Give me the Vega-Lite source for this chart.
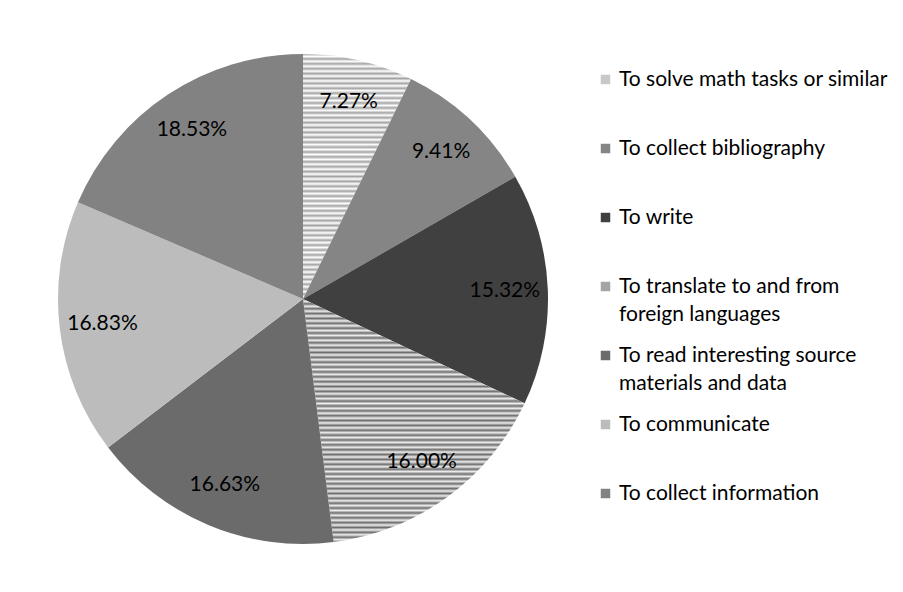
{
  "$schema": "https://vega.github.io/schema/vega-lite/v6.json",
  "width": 600,
  "height": 588,
  "padding": {"left": 3, "top": 5, "right": 0, "bottom": 0},
  "background": "white",
  "config": {"view": {"stroke": null}, "font": "Lato"},
  "data": {
    "values": [
      {"idx": 1, "cat": "To solve math tasks or similar", "pct": 7.27, "label": "7.27%"},
      {"idx": 2, "cat": "To collect bibliography", "pct": 9.41, "label": "9.41%"},
      {"idx": 3, "cat": "To write", "pct": 15.32, "label": "15.32%"},
      {"idx": 4, "cat": "To translate to and from foreign languages", "pct": 16.00, "label": "16.00%"},
      {"idx": 5, "cat": "To read interesting source materials and data", "pct": 16.63, "label": "16.63%"},
      {"idx": 6, "cat": "To communicate", "pct": 16.83, "label": "16.83%"},
      {"idx": 7, "cat": "To collect information", "pct": 18.53, "label": "18.53%"}
    ]
  },
  "encoding": {
    "theta": {"field": "pct", "type": "quantitative", "stack": true},
    "order": {"field": "idx", "type": "quantitative"}
  },
  "layer": [
    {
      "mark": {"type": "arc", "outerRadius": 245},
      "encoding": {
        "color": {
          "field": "cat",
          "type": "nominal",
          "sort": null,
          "scale": {
            "domain": ["To solve math tasks or similar", "To collect bibliography", "To write", "To translate to and from foreign languages", "To read interesting source materials and data", "To communicate", "To collect information"],
            "range": ["#c8c8c8", "#858585", "#404040", "#a4a4a4", "#6b6b6b", "#bcbcbc", "#828282"]
          },
          "condition": [
            {"test": "datum.idx == 1", "value": {"gradient": "linear", "x1": 0, "y1": 0, "x2": 0, "y2": 1, "stops": [
              {"offset": 0.00, "color": "#a4a4a4"}, {"offset": 0.01, "color": "#ffffff"}, {"offset": 0.02, "color": "#a4a4a4"}, {"offset": 0.03, "color": "#ffffff"}, {"offset": 0.04, "color": "#a4a4a4"}, {"offset": 0.05, "color": "#ffffff"}, {"offset": 0.06, "color": "#a4a4a4"}, {"offset": 0.07, "color": "#ffffff"}, {"offset": 0.08, "color": "#a4a4a4"}, {"offset": 0.09, "color": "#ffffff"},
              {"offset": 0.10, "color": "#a4a4a4"}, {"offset": 0.11, "color": "#ffffff"}, {"offset": 0.12, "color": "#a4a4a4"}, {"offset": 0.13, "color": "#ffffff"}, {"offset": 0.14, "color": "#a4a4a4"}, {"offset": 0.15, "color": "#ffffff"}, {"offset": 0.16, "color": "#a4a4a4"}, {"offset": 0.17, "color": "#ffffff"}, {"offset": 0.18, "color": "#a4a4a4"}, {"offset": 0.19, "color": "#ffffff"},
              {"offset": 0.20, "color": "#a4a4a4"}, {"offset": 0.21, "color": "#ffffff"}, {"offset": 0.22, "color": "#a4a4a4"}, {"offset": 0.23, "color": "#ffffff"}, {"offset": 0.24, "color": "#a4a4a4"}, {"offset": 0.25, "color": "#ffffff"}, {"offset": 0.26, "color": "#a4a4a4"}, {"offset": 0.27, "color": "#ffffff"}, {"offset": 0.28, "color": "#a4a4a4"}, {"offset": 0.29, "color": "#ffffff"},
              {"offset": 0.30, "color": "#a4a4a4"}, {"offset": 0.31, "color": "#ffffff"}, {"offset": 0.32, "color": "#a4a4a4"}, {"offset": 0.33, "color": "#ffffff"}, {"offset": 0.34, "color": "#a4a4a4"}, {"offset": 0.35, "color": "#ffffff"}, {"offset": 0.36, "color": "#a4a4a4"}, {"offset": 0.37, "color": "#ffffff"}, {"offset": 0.38, "color": "#a4a4a4"}, {"offset": 0.39, "color": "#ffffff"},
              {"offset": 0.40, "color": "#a4a4a4"}, {"offset": 0.41, "color": "#ffffff"}, {"offset": 0.42, "color": "#a4a4a4"}, {"offset": 0.43, "color": "#ffffff"}, {"offset": 0.44, "color": "#a4a4a4"}, {"offset": 0.45, "color": "#ffffff"}, {"offset": 0.46, "color": "#a4a4a4"}, {"offset": 0.47, "color": "#ffffff"}, {"offset": 0.48, "color": "#a4a4a4"}, {"offset": 0.49, "color": "#ffffff"},
              {"offset": 0.50, "color": "#a4a4a4"}, {"offset": 0.51, "color": "#ffffff"}, {"offset": 0.52, "color": "#a4a4a4"}, {"offset": 0.53, "color": "#ffffff"}, {"offset": 0.54, "color": "#a4a4a4"}, {"offset": 0.55, "color": "#ffffff"}, {"offset": 0.56, "color": "#a4a4a4"}, {"offset": 0.57, "color": "#ffffff"}, {"offset": 0.58, "color": "#a4a4a4"}, {"offset": 0.59, "color": "#ffffff"},
              {"offset": 0.60, "color": "#a4a4a4"}, {"offset": 0.61, "color": "#ffffff"}, {"offset": 0.62, "color": "#a4a4a4"}, {"offset": 0.63, "color": "#ffffff"}, {"offset": 0.64, "color": "#a4a4a4"}, {"offset": 0.65, "color": "#ffffff"}, {"offset": 0.66, "color": "#a4a4a4"}, {"offset": 0.67, "color": "#ffffff"}, {"offset": 0.68, "color": "#a4a4a4"}, {"offset": 0.69, "color": "#ffffff"},
              {"offset": 0.70, "color": "#a4a4a4"}, {"offset": 0.71, "color": "#ffffff"}, {"offset": 0.72, "color": "#a4a4a4"}, {"offset": 0.73, "color": "#ffffff"}, {"offset": 0.74, "color": "#a4a4a4"}, {"offset": 0.75, "color": "#ffffff"}, {"offset": 0.76, "color": "#a4a4a4"}, {"offset": 0.77, "color": "#ffffff"}, {"offset": 0.78, "color": "#a4a4a4"}, {"offset": 0.79, "color": "#ffffff"},
              {"offset": 0.80, "color": "#a4a4a4"}, {"offset": 0.81, "color": "#ffffff"}, {"offset": 0.82, "color": "#a4a4a4"}, {"offset": 0.83, "color": "#ffffff"}, {"offset": 0.84, "color": "#a4a4a4"}, {"offset": 0.85, "color": "#ffffff"}, {"offset": 0.86, "color": "#a4a4a4"}, {"offset": 0.87, "color": "#ffffff"}, {"offset": 0.88, "color": "#a4a4a4"}, {"offset": 0.89, "color": "#ffffff"},
              {"offset": 0.90, "color": "#a4a4a4"}, {"offset": 0.91, "color": "#ffffff"}, {"offset": 0.92, "color": "#a4a4a4"}, {"offset": 0.93, "color": "#ffffff"}, {"offset": 0.94, "color": "#a4a4a4"}, {"offset": 0.95, "color": "#ffffff"}, {"offset": 0.96, "color": "#a4a4a4"}, {"offset": 0.97, "color": "#ffffff"}, {"offset": 0.98, "color": "#a4a4a4"}, {"offset": 0.99, "color": "#ffffff"},
              {"offset": 1.00, "color": "#a4a4a4"}
            ]}},
            {"test": "datum.idx == 4", "value": {"gradient": "linear", "x1": 0, "y1": 0, "x2": 0, "y2": 1, "stops": [
              {"offset": 0.00, "color": "#6e6e6e"}, {"offset": 0.01, "color": "#eeeeee"}, {"offset": 0.02, "color": "#6e6e6e"}, {"offset": 0.03, "color": "#eeeeee"}, {"offset": 0.04, "color": "#6e6e6e"}, {"offset": 0.05, "color": "#eeeeee"}, {"offset": 0.06, "color": "#6e6e6e"}, {"offset": 0.07, "color": "#eeeeee"}, {"offset": 0.08, "color": "#6e6e6e"}, {"offset": 0.09, "color": "#eeeeee"},
              {"offset": 0.10, "color": "#6e6e6e"}, {"offset": 0.11, "color": "#eeeeee"}, {"offset": 0.12, "color": "#6e6e6e"}, {"offset": 0.13, "color": "#eeeeee"}, {"offset": 0.14, "color": "#6e6e6e"}, {"offset": 0.15, "color": "#eeeeee"}, {"offset": 0.16, "color": "#6e6e6e"}, {"offset": 0.17, "color": "#eeeeee"}, {"offset": 0.18, "color": "#6e6e6e"}, {"offset": 0.19, "color": "#eeeeee"},
              {"offset": 0.20, "color": "#6e6e6e"}, {"offset": 0.21, "color": "#eeeeee"}, {"offset": 0.22, "color": "#6e6e6e"}, {"offset": 0.23, "color": "#eeeeee"}, {"offset": 0.24, "color": "#6e6e6e"}, {"offset": 0.25, "color": "#eeeeee"}, {"offset": 0.26, "color": "#6e6e6e"}, {"offset": 0.27, "color": "#eeeeee"}, {"offset": 0.28, "color": "#6e6e6e"}, {"offset": 0.29, "color": "#eeeeee"},
              {"offset": 0.30, "color": "#6e6e6e"}, {"offset": 0.31, "color": "#eeeeee"}, {"offset": 0.32, "color": "#6e6e6e"}, {"offset": 0.33, "color": "#eeeeee"}, {"offset": 0.34, "color": "#6e6e6e"}, {"offset": 0.35, "color": "#eeeeee"}, {"offset": 0.36, "color": "#6e6e6e"}, {"offset": 0.37, "color": "#eeeeee"}, {"offset": 0.38, "color": "#6e6e6e"}, {"offset": 0.39, "color": "#eeeeee"},
              {"offset": 0.40, "color": "#6e6e6e"}, {"offset": 0.41, "color": "#eeeeee"}, {"offset": 0.42, "color": "#6e6e6e"}, {"offset": 0.43, "color": "#eeeeee"}, {"offset": 0.44, "color": "#6e6e6e"}, {"offset": 0.45, "color": "#eeeeee"}, {"offset": 0.46, "color": "#6e6e6e"}, {"offset": 0.47, "color": "#eeeeee"}, {"offset": 0.48, "color": "#6e6e6e"}, {"offset": 0.49, "color": "#eeeeee"},
              {"offset": 0.50, "color": "#6e6e6e"}, {"offset": 0.51, "color": "#eeeeee"}, {"offset": 0.52, "color": "#6e6e6e"}, {"offset": 0.53, "color": "#eeeeee"}, {"offset": 0.54, "color": "#6e6e6e"}, {"offset": 0.55, "color": "#eeeeee"}, {"offset": 0.56, "color": "#6e6e6e"}, {"offset": 0.57, "color": "#eeeeee"}, {"offset": 0.58, "color": "#6e6e6e"}, {"offset": 0.59, "color": "#eeeeee"},
              {"offset": 0.60, "color": "#6e6e6e"}, {"offset": 0.61, "color": "#eeeeee"}, {"offset": 0.62, "color": "#6e6e6e"}, {"offset": 0.63, "color": "#eeeeee"}, {"offset": 0.64, "color": "#6e6e6e"}, {"offset": 0.65, "color": "#eeeeee"}, {"offset": 0.66, "color": "#6e6e6e"}, {"offset": 0.67, "color": "#eeeeee"}, {"offset": 0.68, "color": "#6e6e6e"}, {"offset": 0.69, "color": "#eeeeee"},
              {"offset": 0.70, "color": "#6e6e6e"}, {"offset": 0.71, "color": "#eeeeee"}, {"offset": 0.72, "color": "#6e6e6e"}, {"offset": 0.73, "color": "#eeeeee"}, {"offset": 0.74, "color": "#6e6e6e"}, {"offset": 0.75, "color": "#eeeeee"}, {"offset": 0.76, "color": "#6e6e6e"}, {"offset": 0.77, "color": "#eeeeee"}, {"offset": 0.78, "color": "#6e6e6e"}, {"offset": 0.79, "color": "#eeeeee"},
              {"offset": 0.80, "color": "#6e6e6e"}, {"offset": 0.81, "color": "#eeeeee"}, {"offset": 0.82, "color": "#6e6e6e"}, {"offset": 0.83, "color": "#eeeeee"}, {"offset": 0.84, "color": "#6e6e6e"}, {"offset": 0.85, "color": "#eeeeee"}, {"offset": 0.86, "color": "#6e6e6e"}, {"offset": 0.87, "color": "#eeeeee"}, {"offset": 0.88, "color": "#6e6e6e"}, {"offset": 0.89, "color": "#eeeeee"},
              {"offset": 0.90, "color": "#6e6e6e"}, {"offset": 0.91, "color": "#eeeeee"}, {"offset": 0.92, "color": "#6e6e6e"}, {"offset": 0.93, "color": "#eeeeee"}, {"offset": 0.94, "color": "#6e6e6e"}, {"offset": 0.95, "color": "#eeeeee"}, {"offset": 0.96, "color": "#6e6e6e"}, {"offset": 0.97, "color": "#eeeeee"}, {"offset": 0.98, "color": "#6e6e6e"}, {"offset": 0.99, "color": "#eeeeee"},
              {"offset": 1.00, "color": "#6e6e6e"}
            ]}}
          ],
          "legend": {
            "title": null,
            "orient": "none",
            "legendX": 592,
            "legendY": 64,
            "symbolType": "square",
            "symbolSize": 90,
            "symbolStrokeWidth": 0,
            "labelFontSize": 21,
            "labelFont": "Lato",
            "labelColor": "#000000",
            "labelLimit": 400,
            "labelBaseline": "middle",
            "rowPadding": 19,
            "labelOffset": 3,
            "labelExpr": "datum.label == 'To translate to and from foreign languages' ? ['To translate to and from', 'foreign languages'] : datum.label == 'To read interesting source materials and data' ? ['To read interesting source', 'materials and data'] : [datum.label, '']",
            "encode": {"labels": {"update": {"lineHeight": {"value": 28}}}}
          }
        }
      }
    },
    {
      "mark": {"type": "text", "radius": 202, "fontSize": 21, "font": "Lato", "color": "#000000"},
      "encoding": {
        "text": {"field": "label", "type": "nominal"}
      }
    }
  ]
}
